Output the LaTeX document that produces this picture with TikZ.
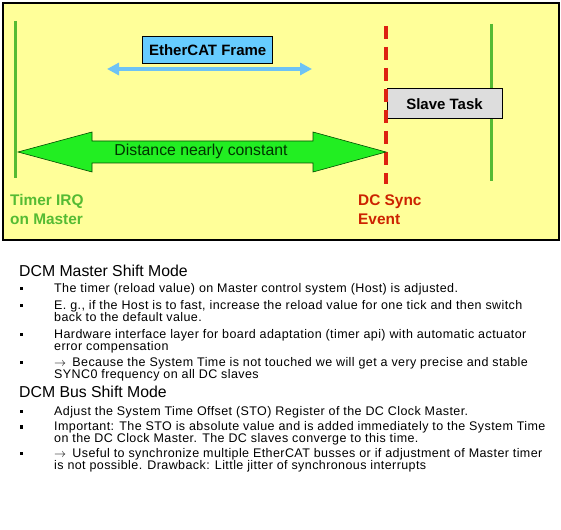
\documentclass[tikz,border=0pt]{standalone}
\usepackage{fontspec}
\setmainfont{Liberation Sans}
\newfontfamily\bodyfont[LetterSpace=3.3]{Liberation Sans}
\usetikzlibrary{arrows.meta, calc, positioning}

\definecolor{bgyellow}{RGB}{255,255,153}
\definecolor{irqgreen}{RGB}{85,187,51}
\definecolor{syncred}{RGB}{221,34,17}
\definecolor{synctext}{RGB}{204,34,0}
\definecolor{framefill}{RGB}{102,204,255}
\definecolor{framearrow}{RGB}{110,195,245}
\definecolor{taskgray}{RGB}{221,221,221}
\definecolor{distgreen}{RGB}{34,238,34}

\begin{document}
\begin{tikzpicture}[x=1pt, y=-1pt,
    boxlabel/.style={draw=black, line width=1pt, font=\fontsize{15}{18}\selectfont\bfseries, inner sep=0pt},
    eventlabel/.style={anchor=base west, align=left, inner sep=0pt, font=\fontsize{15.4}{19.3}\selectfont\bfseries},
    heading/.style={anchor=base west, inner sep=0pt, font=\fontsize{15.8}{18}\selectfont},
    bodyline/.style={anchor=base west, inner sep=0pt, font=\bodyfont\fontsize{12.5}{12}\selectfont}]
    % fixed page size
    \useasboundingbox[fill=white] (0,0) rectangle (561,529);

    % Yellow timing panel
    \draw[fill=bgyellow, draw=black, line width=1.3pt] (3,3) rectangle (559,240);

    % Master timer ticks (green) and sync event (red dashed)
    \draw[irqgreen, line width=3pt] (15,21) -- (15,178);
    \draw[irqgreen, line width=3pt] (491,24) -- (491,181);

    % Slave task box, sits right of the sync line
    \node[boxlabel, fill=taskgray, minimum width=115, minimum height=30] (task) at (444.5,104) {Slave Task};
    \draw[syncred, line width=3.3pt, dash pattern=on 13pt off 8pt] (386,26) -- (386,184);

    % EtherCAT frame and its travel arrow
    \node[boxlabel, fill=framefill, minimum width=130, minimum height=27] (frame) at (207.7,50.5) {EtherCAT Frame};
    \coordinate (fl) at (107,69);
    \coordinate (fr) at (312,69);
    \draw[framearrow, line width=4pt, {Triangle[length=12pt,width=12pt]}-{Triangle[length=12pt,width=12pt]}] (fl) -- (fr);

    % Big double arrow between timer IRQ and sync event
    \coordinate (irq) at (18,152);
    \coordinate (sync) at (386,152);
    \draw[fill=distgreen, draw=black!70!green, line width=0.6pt]
      (irq) -- ($(irq)+(74,-20)$) -- ($(irq)+(74,-11)$) -- ($(sync)+(-73,-11)$)
      -- ($(sync)+(-73,-20)$) -- (sync) -- ($(sync)+(-73,20)$) -- ($(sync)+(-73,11)$)
      -- ($(irq)+(74,11)$) -- ($(irq)+(74,20)$) -- cycle;
    \node[font=\fontsize{15.8}{18}\selectfont, text=black!80!green, inner sep=0pt] (dist) at (201,151) {Distance nearly constant};

    % Event labels under the lines (anchored at the last line)
    \node[eventlabel, text=irqgreen] (irqlabel) at (10,224.3) {Timer IRQ\\on Master};
    \node[eventlabel, text=synctext] (synclabel) at (358,224.3) {DC Sync\\Event};

    % Text part: DCM Master Shift Mode
    \node[heading] (masterhead) at (19,276) {DCM Master Shift Mode};
    \foreach \y/\txt [count=\i] in {
        292/{The timer (reload value) on Master control system (Host) is adjusted.},
        309/{E. g., if the Host is to fast, increase the reload value for one tick and then switch},
        321/{back to the default value.},
        338/{Hardware interface layer for board adaptation (timer api) with automatic actuator},
        350/{error compensation},
        366/{$\rightarrow$\enspace Because the System Time is not touched we will get a very precise and stable},
        378/{SYNC0 frequency on all DC slaves}}
      \node[bodyline] (m\i) at (54,\y) {\txt};

    % Text part: DCM Bus Shift Mode
    \node[heading] (bushead) at (19,397) {DCM Bus Shift Mode};
    \foreach \y/\txt [count=\i] in {
        415/{Adjust the System Time Offset (STO) Register of the DC Clock Master.},
        430.5/{Important: The STO is absolute value and is added immediately to the System Time},
        442.5/{on the DC Clock Master. The DC slaves converge to this time.},
        457/{$\rightarrow$\enspace Useful to synchronize multiple EtherCAT busses or if adjustment of Master timer},
        469/{is not possible. Drawback: Little jitter of synchronous interrupts}}
      \node[bodyline] (b\i) at (54,\y) {\txt};

    % Square bullets
    \foreach \y in {292, 309, 338, 366, 415, 430.5, 457}
      \fill (20,\y-5.3) rectangle +(2.7,3.3);
\end{tikzpicture}
\end{document}
